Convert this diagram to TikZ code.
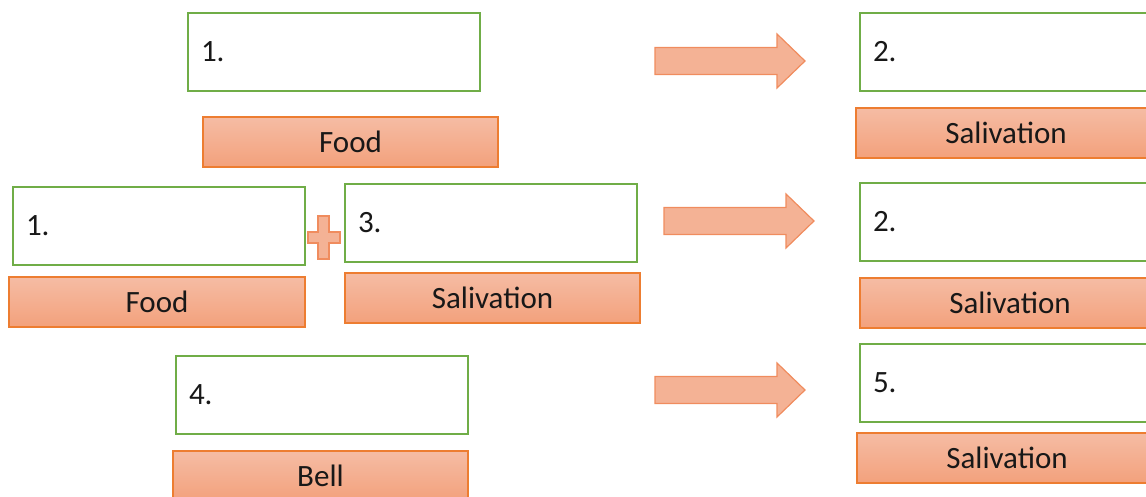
\documentclass[tikz,border=0pt]{standalone}
\usepackage{fontspec}
\setmainfont{Carlito}
\usepackage{tikz}

\definecolor{boxgreen}{HTML}{70AD47}
\definecolor{boxorange}{HTML}{ED7D31}
\definecolor{fillhi}{HTML}{F5BCA4}
\definecolor{filllo}{HTML}{F3A17C}
\definecolor{arrowfill}{HTML}{F4B295}
\definecolor{arrowline}{HTML}{F08C5E}
\definecolor{txt}{HTML}{181818}

\tikzset{
	greenbox/.style={draw=boxgreen, line width=1.5pt, fill=white, anchor=north west,
		minimum height=78pt, text width=266pt, inner xsep=13pt, outer sep=0pt, align=left,
		font=\fontsize{31}{37}\selectfont, text=txt},
	orangebox/.style={draw=boxorange, line width=1.5pt, top color=fillhi, bottom color=filllo,
		anchor=north west, minimum height=50pt, minimum width=#1, inner sep=0pt, outer sep=0pt,
		font=\fontsize{31}{37}\selectfont, text=txt},
	orangebox/.default=295pt,
	bigarrow/.style={draw=arrowline, line width=1.2pt, fill=arrowfill, line join=miter}
}

\begin{document}
\begin{tikzpicture}[x=1pt, y=-1pt]
		\path[use as bounding box] (0, 0) rectangle (1146, 497);
		\clip (0, 0) rectangle (1146, 497);

		% first row
		\node[greenbox] (cs1) at (188, 13) {1.};
		\node[orangebox] (food1) at (203, 117) {Food};
		\node[greenbox] (ur1) at (860, 13) {2.};
		\node[orangebox=300pt] (sal1) at (856, 108) {Salivation};

		% second row
		\node[greenbox] (cs2) at (13, 187) {1.};
		\node[orangebox=296pt] (food2) at (9, 277) {Food};
		\node[greenbox] (cs3) at (345, 184) {3.};
		\node[orangebox] (sal2) at (345, 273) {Salivation};
		\node[greenbox] (ur2) at (860, 183) {2.};
		\node[orangebox=300pt] (sal3) at (860, 278) {Salivation};

		% third row
		\node[greenbox] (cs4) at (176, 356) {4.};
		\node[orangebox] (bell) at (173, 451) {Bell};
		\node[greenbox] (cs5) at (860, 344) {5.};
		\node[orangebox=300pt] (sal4) at (857, 433) {Salivation};

		% plus sign
		\draw[bigarrow] (318, 216) -- (329, 216) -- (329, 232) -- (340, 232) --
			(340, 243) -- (329, 243) -- (329, 259) -- (318, 259) -- (318, 243) --
			(308, 243) -- (308, 232) -- (318, 232) -- cycle;

		% block arrows
		\foreach \ax/\ay in {655/61, 664/221, 655/390}
		\draw[bigarrow] (\ax, \ay-13.5) -- ++(122, 0) -- ++(0, -13.5) -- ++(28, 27) --
			++(-28, 27) -- ++(0, -13.5) -- ++(-122, 0) -- cycle;
	\end{tikzpicture}
\end{document}
